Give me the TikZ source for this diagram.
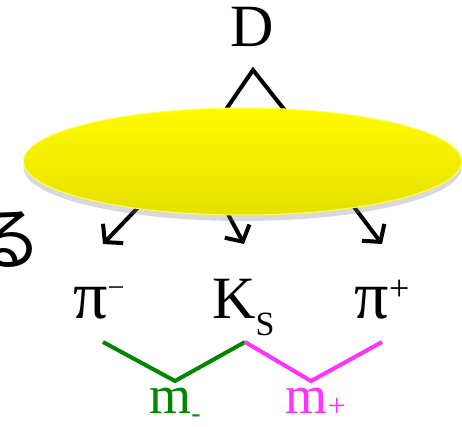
\documentclass[tikz,border=0pt]{standalone}
\usepackage{fontspec}
\setmainfont{Liberation Serif}
\newfontfamily\jpfont{Noto Sans CJK JP}
\usetikzlibrary{arrows.meta,shadows,shapes.geometric}
\definecolor{disctop}{RGB}{255,250,0}
\definecolor{discbot}{RGB}{230,224,0}
\definecolor{discrim}{RGB}{255,255,90}
\definecolor{mgreen}{RGB}{0,135,0}
\definecolor{mpink}{RGB}{255,50,255}
\newcommand{\pisym}{{\fontsize{68}{68}\selectfont π}}
\begin{document}
\begin{tikzpicture}[x=1pt,y=-1pt,
  big/.style={font=\fontsize{60}{60}\selectfont, inner sep=0pt, anchor=base},
  small/.style={font=\fontsize{54}{54}\selectfont, inner sep=0pt, anchor=base},
  decay/.style={line width=4pt, -{Straight Barb[length=12pt,width=28pt]}},
  pair/.style={line width=4pt}]
  \useasboundingbox (0,0) rectangle (462,427);
  % mother and the lines into the disc
  \node[big] (D) at (252,47) {D};
  \coordinate (apex) at (253,70);
  \coordinate (inl) at (214,127);
  \coordinate (inr) at (298,127);
  \draw[line width=4pt] (inl) -- (apex) -- (inr);
  % decay lines
  \coordinate (outm) at (150,195);
  \coordinate (outk) at (222,203);
  \coordinate (outp) at (345,195);
  \coordinate (tipm) at (103,244);
  \coordinate (tipk) at (244,244);
  \coordinate (tipp) at (382,244);
  \draw[decay] (outm) -- (tipm);
  \draw[decay] (outk) -- (tipk);
  \draw[decay] (outp) -- (tipp);
  % the disc
  \node[ellipse, minimum width=438pt, minimum height=107pt, inner sep=0pt,
    top color=disctop, bottom color=discbot, draw=discrim, line width=1pt,
    drop shadow={opacity=0.3, shadow xshift=0pt, shadow yshift=-6pt}]
    (disc) at (242.5,161.5) {};
  \node[font=\jpfont\fontsize{70}{70}\selectfont, inner sep=0pt] (ru) at (8,240) {る};
  % daughters
  \node[big] (pim) at (99,318) {\pisym\raisebox{21pt}{\fontsize{30}{30}\selectfont −}};
  \node[big] (ks) at (243.5,318) {K\raisebox{-17pt}{\fontsize{34}{34}\selectfont S}};
  \node[big] (pip) at (382,318) {\pisym\raisebox{18pt}{\fontsize{36}{36}\selectfont +}};
  % invariant masses
  \coordinate (b1) at (103,342);
  \coordinate (b2) at (175,381);
  \coordinate (b3) at (245,342);
  \coordinate (b4) at (311,381);
  \coordinate (b5) at (382,342);
  \draw[pair, mgreen] (b1) -- (b2) -- (b3);
  \draw[pair, mpink] (b3) -- (b4) -- (b5);
  \node[small, text=mgreen] (mm) at (175,413) {m\raisebox{-9pt}{\fontsize{28}{28}\selectfont -}};
  \node[small, text=mpink] (mp) at (316,413) {m\raisebox{-3pt}{\fontsize{32}{32}\selectfont +}};
\end{tikzpicture}
\end{document}
